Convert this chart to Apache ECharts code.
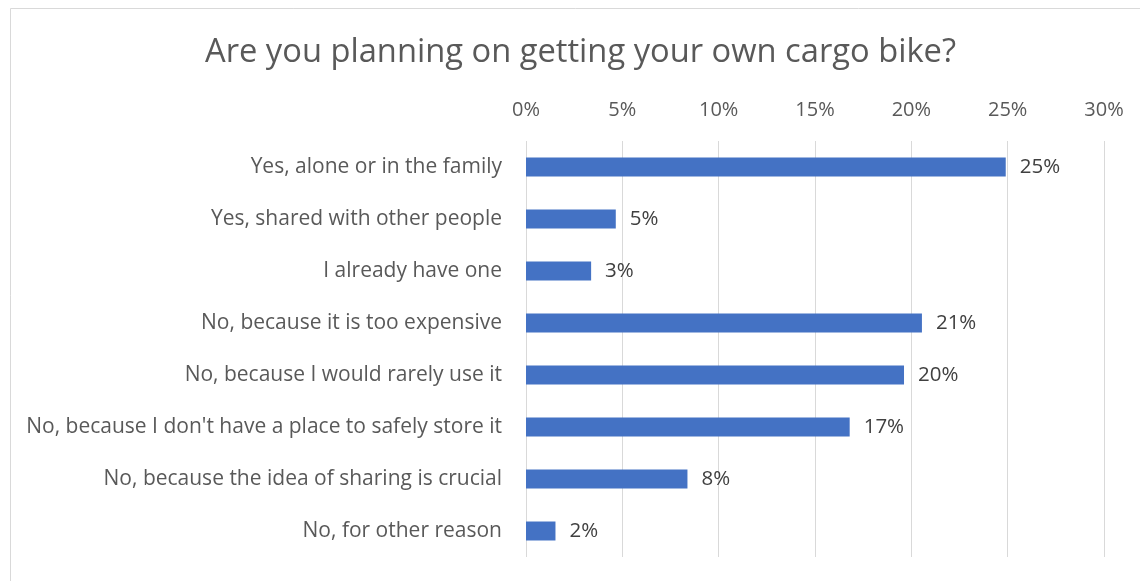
<!DOCTYPE html>
<html>
<head>
<meta charset="utf-8">
<script src="https://cdn.jsdelivr.net/npm/echarts@6/dist/echarts.min.js"></script>
<style>
  html, body { margin: 0; padding: 0; background: #ffffff; }
  #chart { width: 1140px; height: 581px; }
</style>
</head>
<body>
<div id="chart"></div>
<script>
// Survey answers, top to bottom
const categories = [
  'Yes, alone or in the family',
  'Yes, shared with other people',
  'I already have one',
  'No, because it is too expensive',
  'No, because I would rarely use it',
  "No, because I don't have a place to safely store it",
  'No, because the idea of sharing is crucial',
  'No, for other reason'
];
// Share of respondents, in percent
const shares = [24.9, 4.66, 3.38, 20.55, 19.62, 16.8, 8.38, 1.53];
// Value axis ticks
const tickMin = 0;
const tickMax = 30;
const tickStep = 5;

const FONT = '"Open Sans", "Noto Sans", sans-serif';

const chart = echarts.init(document.getElementById('chart'), null, { renderer: 'canvas' });

chart.setOption({
  animation: false,
  backgroundColor: '#ffffff',
  title: {
    text: 'Are you planning on getting your own cargo bike?',
    left: 200,
    top: 31,
    textStyle: { fontFamily: FONT, fontSize: 32.7, fontWeight: 'normal', color: '#595959' }
  },
  graphic: [{
    type: 'rect',
    shape: { x: 10.5, y: 8.5, width: 1140, height: 600 },
    style: { fill: 'none', stroke: '#d9d9d9', lineWidth: 1 },
    silent: true
  }],
  grid: { left: 526, right: 36, top: 141, height: 416, containLabel: false },
  xAxis: {
    type: 'value',
    position: 'top',
    min: tickMin,
    max: tickMax,
    interval: tickStep,
    axisLine: { show: false },
    axisTick: { show: false },
    axisLabel: {
      formatter: v => v + '%',
      fontFamily: FONT, fontSize: 20, color: '#595959', margin: 21
    },
    splitLine: { show: true, lineStyle: { color: '#d9d9d9', width: 1 } }
  },
  yAxis: {
    type: 'category',
    inverse: true,
    data: categories,
    axisLine: { show: false },
    axisTick: { show: false },
    axisLabel: { fontFamily: FONT, fontSize: 21, color: '#595959', margin: 24 }
  },
  series: [{
    type: 'bar',
    data: shares,
    barWidth: 19,
    itemStyle: { color: '#4472c4' },
    label: {
      show: true,
      position: 'right',
      distance: 14,
      formatter: p => Math.round(p.value) + '%',
      fontFamily: FONT, fontSize: 20.5, color: '#404040'
    }
  }]
});
</script>
</body>
</html>
